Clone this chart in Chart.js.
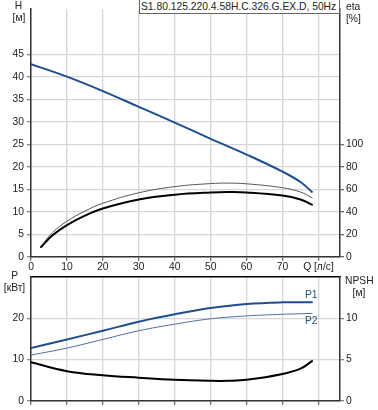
<!DOCTYPE html>
<html><head><meta charset="utf-8">
<script src="https://cdn.jsdelivr.net/npm/chart.js@4/dist/chart.umd.min.js"></script>
<style>
html,body{margin:0;padding:0;background:#fff;width:378px;height:410px;overflow:hidden;font-family:"Liberation Sans",Arial,sans-serif;}
#wrap{position:relative;width:378px;height:410px;}
canvas{position:absolute;left:0;}
.lbl{position:absolute;font-size:10.3px;color:#222;line-height:12px;white-space:nowrap;}
.c{text-align:center;width:40px;}
#title{position:absolute;left:139px;top:0;width:198px;height:13px;border:1px solid #666;border-top:none;background:#fff;font-size:10.3px;line-height:13px;color:#222;padding-left:1px;white-space:nowrap;}
</style></head>
<body><div id="wrap">
<canvas id="top" width="378" height="274" style="top:0"></canvas>
<canvas id="bot" width="378" height="142" style="top:268px"></canvas>
<div id="title">S1.80.125.220.4.58H.C.326.G.EX.D, 50Hz</div>
<div class="lbl c" style="left:-1.5px;top:0px">H</div>
<div class="lbl c" style="left:-1px;top:12px">[м]</div>
<div class="lbl" style="left:346px;top:1px">eta</div>
<div class="lbl" style="left:346px;top:13px">[%]</div>
<div class="lbl c" style="left:-5.3px;top:270px">P</div>
<div class="lbl c" style="left:-5.5px;top:282px">[кВт]</div>
<div class="lbl" style="left:345px;top:275px">NPSH</div>
<div class="lbl c" style="left:339px;top:287px">[м]</div>
</div>
<script>
// ---- data ----
const qH      = [0, 10, 20, 30, 40, 50, 60, 70, 75, 78.2];
const headH   = [42.8, 40.0, 36.8, 33.3, 29.8, 26.2, 22.7, 18.9, 16.6, 14.4];
const qEta    = [2.8, 6, 10, 15, 20, 30, 40, 50, 55, 60, 70, 75, 78.2];
const etaPump = [9.6, 21.5, 31.5, 40.5, 47.5, 56.8, 62.3, 65.0, 65.4, 64.8, 61.3, 57.5, 52.4];
const etaTot  = [8.6, 19.0, 28.0, 36.5, 42.9, 50.9, 55.1, 57.1, 57.4, 57.1, 54.3, 50.8, 46.3];
const qP      = [0, 10, 20, 30, 40, 50, 60, 70, 78.2];
const powerP1 = [12.8, 14.9, 17.0, 19.2, 21.0, 22.5, 23.5, 23.9, 23.9];
const powerP2 = [11.1, 12.8, 14.9, 17.0, 18.6, 19.9, 20.6, 21.0, 21.2];
const qN      = [0, 10, 20, 30, 40, 50, 55, 60, 70, 75, 78.2];
const npsh    = [4.67, 3.6, 3.1, 2.8, 2.55, 2.43, 2.43, 2.55, 3.26, 3.9, 4.82];
const xTicks  = [0, 10, 20, 30, 40, 50, 60, 70, 80];
const qLabel  = 'Q [л/с]';

const pts = (xs, ys) => xs.map((x, i) => ({x, y: ys[i]}));
const FONT = {family: '"Liberation Sans", Arial, sans-serif', size: 10.3};
const TXT = '#222';
const GRID = '#d6d6d6';
const AX = '#333';

const base = {
  responsive: false, animation: false, devicePixelRatio: 1,
  layout: {padding: 0},
  plugins: {legend: {display: false}, tooltip: {enabled: false}},
  elements: {point: {radius: 0}, line: {tension: 0.4, fill: false, borderCapStyle: 'round'}}
};

new Chart(document.getElementById('top'), {
  type: 'line',
  data: {datasets: [
    {data: pts(qH, headH), borderColor: '#1f4e8d', borderWidth: 2, yAxisID: 'y'},
    {data: pts(qEta, etaPump), borderColor: '#555', borderWidth: 1, yAxisID: 'y2'},
    {data: pts(qEta, etaTot), borderColor: '#000', borderWidth: 2, yAxisID: 'y2'}
  ]},
  options: Object.assign({}, base, {
    scales: {
      x: {type: 'linear', min: 0, max: 86,
        afterBuildTicks: a => { a.ticks = xTicks.map(v => ({value: v})); },
        ticks: {includeBounds: false, autoSkip: false, maxRotation: 0, padding: 0, font: FONT, color: TXT,
          callback: v => v === 80 ? qLabel : String(v)},
        grid: {color: GRID, lineWidth: 1.3, tickLength: 4, tickColor: '#666'},
        border: {color: AX, width: 1.5},
        afterFit: a => { a.height = 17.3; }},
      y: {position: 'left', min: 0, max: 55,
        ticks: {stepSize: 5, includeBounds: false, padding: 3, font: FONT, color: TXT,
          callback: v => v <= 45 ? String(v) : null},
        grid: {color: GRID, lineWidth: 1.3, tickLength: 4,
          tickColor: c => (c.tick && c.tick.value <= 45) ? '#888' : 'rgba(0,0,0,0)'},
        border: {color: AX, width: 1.5},
        afterFit: a => { a.width = 31; }},
      y2: {position: 'right', min: 0, max: 220,
        ticks: {stepSize: 20, includeBounds: false, padding: 2, font: FONT, color: TXT,
          callback: v => v <= 100 ? String(v) : null},
        grid: {drawOnChartArea: false, lineWidth: 1.3, tickLength: 4,
          tickColor: c => (c.tick && c.tick.value <= 100) ? '#666' : 'rgba(0,0,0,0)'},
        border: {color: AX, width: 1.5},
        afterFit: a => { a.width = 38; }}
    }
  })
});

const pLabels = {
  id: 'pLabels',
  afterDatasetsDraw(chart) {
    const {ctx, scales} = chart;
    const n = qP.length - 1;
    const x = scales.x.getPixelForValue(qP[n]) - 7;
    const y1 = scales.y.getPixelForValue(powerP1[n]) - 7;
    const y2 = scales.y.getPixelForValue(powerP2[n]) + 8;
    ctx.save();
    ctx.font = '10.3px "Liberation Sans", Arial, sans-serif';
    ctx.fillStyle = '#1f4e8d';
    ctx.textBaseline = 'middle';
    ctx.textAlign = 'left';
    ctx.fillText('P1', x, y1);
    ctx.fillText('P2', x, y2);
    ctx.restore();
  }
};

new Chart(document.getElementById('bot'), {
  type: 'line',
  data: {datasets: [
    {data: pts(qP, powerP1), borderColor: '#1f4e8d', borderWidth: 2, yAxisID: 'y'},
    {data: pts(qP, powerP2), borderColor: '#4a6fa5', borderWidth: 1, yAxisID: 'y'},
    {data: pts(qN, npsh), borderColor: '#000', borderWidth: 2, yAxisID: 'y2'}
  ]},
  options: Object.assign({}, base, {
    scales: {
      x: {type: 'linear', min: 0, max: 86,
        afterBuildTicks: a => { a.ticks = xTicks.map(v => ({value: v})); },
        ticks: {display: false},
        grid: {color: GRID, lineWidth: 1.3, tickLength: 4, tickColor: '#666'},
        border: {color: AX, width: 1.5},
        afterFit: a => { a.height = 8.3; }},
      x2: {type: 'linear', position: 'top', min: 0, max: 86,
        ticks: {display: false},
        grid: {display: false, drawOnChartArea: false, drawTicks: false},
        border: {display: true, color: '#000', width: 1.5},
        afterFit: a => { a.height = 6.3; }},
      y: {position: 'left', min: 0, max: 30,
        ticks: {stepSize: 10, includeBounds: false, padding: 3, font: FONT, color: TXT,
          callback: v => v <= 20 ? String(v) : null},
        grid: {color: GRID, lineWidth: 1.3, tickLength: 4,
          tickColor: c => (c.tick && c.tick.value <= 20) ? '#888' : 'rgba(0,0,0,0)'},
        border: {color: AX, width: 1.5},
        afterFit: a => { a.width = 31; }},
      y2: {position: 'right', min: 0, max: 15,
        ticks: {stepSize: 5, includeBounds: false, padding: 2, font: FONT, color: TXT,
          callback: v => v <= 10 ? String(v) : null},
        grid: {drawOnChartArea: false, lineWidth: 1.3, tickLength: 4,
          tickColor: c => (c.tick && c.tick.value <= 10) ? '#888' : 'rgba(0,0,0,0)'},
        border: {color: AX, width: 1.5},
        afterFit: a => { a.width = 38; }}
    }
  }),
  plugins: [pLabels]
});
</script>
</body></html>
